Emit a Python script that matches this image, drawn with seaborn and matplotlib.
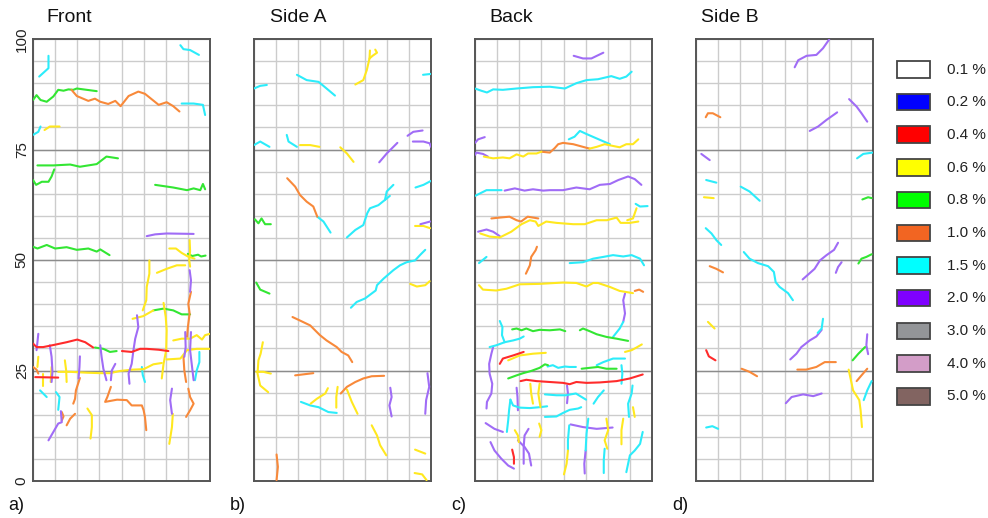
import matplotlib
matplotlib.use("Agg")
import matplotlib.pyplot as plt
import numpy as np
import pandas as pd
import seaborn as sns
from matplotlib.patches import Rectangle

sns.set_theme(style="white")
plt.rcParams["font.family"] = ["Liberation Sans", "DejaVu Sans"]

PANEL_TITLES = ["Front", "Side A", "Back", "Side B"]
PANEL_TAGS = ["a)", "b)", "c)", "d)"]
Y_TICKS = [0, 25, 50, 75, 100]
WIDTH_CLASSES = ["0.1", "0.2", "0.4", "0.6", "0.8", "1.0", "1.5", "2.0", "3.0", "4.0", "5.0"]
LEGEND_FILL = ["#ffffff", "#0000ff", "#ff0000", "#ffff00", "#00ff00", "#f26522",
               "#00ffff", "#7f00ff", "#939598", "#d39dc8", "#826461"]

# crack traces per face: (width class in %, [(x, height), ...])
FRONT_CRACKS = [
    ("1.5", [(1.4, 91.5), (3.5, 93.4), (3.5, 96.2)]),
    ("1.5", [(33.3, 98.6), (34.0, 97.7), (35.5, 97.5), (37.5, 96.4)]),
    ("0.8", [(0, 86.2), (0.8, 87.3), (1.7, 86.2), (3.1, 85.8), (4.6, 87.0), (5.7, 88.5), (6.9, 88.3),
             (8.0, 88.6), (9.1, 88.5), (9.9, 88.8), (11.4, 88.6), (14.4, 88.2)]),
    ("1.0", [(8.7, 88.5), (9.9, 87.1), (12.5, 86.0), (14.0, 86.5), (15.2, 85.8), (17.0, 85.3),
             (18.6, 86.0), (19.8, 84.8), (21.6, 87.1), (23.8, 88.1), (25.3, 87.6), (28.4, 85.1),
             (30.2, 85.7), (31.7, 84.8), (33.1, 83.6)]),
    ("1.5", [(33.6, 85.4), (36.3, 85.4), (38.4, 85.1), (38.9, 82.8)]),
    ("1.5", [(0, 78.3), (1.2, 79.0), (1.7, 80.2)]),
    ("0.6", [(2.6, 79.4), (3.8, 80.2), (6.0, 80.2)]),
    ("0.8", [(1.0, 71.4), (4.6, 71.4), (8.4, 71.6), (10.6, 71.1), (14.4, 71.7), (16.6, 73.4), (19.2, 73.0)]),
    ("0.8", [(0, 68.1), (0.7, 67.0), (2.0, 67.7), (3.5, 67.7), (4.2, 68.9), (4.8, 70.5)]),
    ("0.8", [(27.6, 67.0), (31.7, 66.4), (34.8, 65.8), (36.3, 66.2), (37.8, 65.8), (38.4, 67.2), (38.9, 66.0)]),
    ("2.0", [(25.7, 55.4), (27.6, 55.8), (30.2, 56.0), (36.3, 55.9)]),
    ("0.8", [(0, 53.0), (1.0, 52.6), (3.1, 53.4), (5.0, 52.6), (7.6, 52.9), (9.9, 52.3), (12.5, 52.6),
             (14.4, 51.9), (15.2, 52.4), (17.3, 51.1)]),
    ("0.6", [(30.8, 52.6), (32.3, 52.6), (33.6, 51.6), (35.0, 50.8), (36.5, 50.3)]),
    ("0.6", [(35.4, 54.5), (35.5, 52.0), (35.3, 50.0), (35.5, 48.5)]),
    ("0.8", [(35.0, 51.4), (36.0, 50.9), (37.3, 51.2), (38.0, 50.8), (39.0, 51.0)]),
    ("0.6", [(26.3, 49.9), (26.3, 46.9), (25.7, 43.9), (25.6, 40.9), (24.8, 38.6)]),
    ("0.6", [(28.0, 47.1), (30.2, 48.0), (32.5, 48.8), (34.4, 48.8)]),
    ("2.0", [(35.4, 47.7), (35.7, 45.4), (35.5, 42.8)]),
    ("1.0", [(35.7, 42.8), (35.1, 40.1), (35.4, 37.9), (35.0, 34.8), (34.8, 32.6)]),
    ("0.8", [(27.2, 38.6), (29.5, 39.0), (31.7, 38.6), (33.6, 37.7), (35.5, 37.7)]),
    ("0.6", [(22.5, 36.7), (24.9, 37.3), (27.2, 38.6)]),
    ("0.6", [(29.5, 40.3), (30.0, 37.1), (30.2, 34.1), (30.1, 29.6), (29.5, 26.5), (29.1, 23.2)]),
    ("2.0", [(23.5, 37.5), (23.8, 34.8), (23.1, 32.2), (22.7, 29.6), (22.3, 26.5), (21.6, 24.3), (21.8, 22.0)]),
    ("0.4", [(0, 31.1), (0.8, 30.3), (2.3, 30.3), (4.8, 30.8), (7.6, 31.4), (10.0, 32.0), (11.8, 31.4), (13.6, 30.2)]),
    ("0.8", [(14.0, 30.2), (15.9, 29.9), (17.4, 29.2), (18.9, 29.4)]),
    ("0.4", [(20.1, 29.4), (22.3, 29.2), (24.2, 29.9), (25.7, 29.9), (28.4, 29.7), (30.6, 29.4)]),
    ("0.6", [(31.7, 31.8), (33.6, 32.2), (35.5, 32.2), (37.0, 33.0), (38.2, 32.0), (38.9, 33.0), (40, 33.3)]),
    ("0.6", [(30.2, 27.5), (33.3, 27.7), (34.8, 29.6), (37.0, 29.9), (40, 29.9)]),
    ("2.0", [(34.4, 33.7), (34.5, 30.3), (34.2, 28.1)]),
    ("2.0", [(35.7, 33.7), (35.5, 29.6), (36.3, 22.8)]),
    ("1.5", [(37.6, 29.2), (37.6, 26.9), (37.0, 25.0), (36.6, 22.8)]),
    ("1.0", [(34.0, 28.1), (34.2, 25.0), (34.6, 22.4)]),
    ("1.0", [(35.1, 20.9), (35.5, 19.0), (36.3, 17.5), (35.5, 16.0), (34.6, 14.5)]),
    ("2.0", [(31.4, 20.9), (31.0, 18.3), (31.4, 15.2)]),
    ("0.6", [(31.6, 15.2), (31.4, 12.2), (30.8, 8.4)]),
    ("0.6", [(5.7, 24.7), (8.4, 24.7), (12.2, 24.5), (15.2, 24.4), (17.4, 24.4), (19.7, 24.9), (22.6, 25.2),
             (25.0, 25.3), (27.2, 26.4), (29.1, 26.7)]),
    ("1.5", [(24.6, 25.8), (24.8, 24.0), (25.3, 22.4)]),
    ("2.0", [(1.2, 33.3), (1.0, 31.4), (0.8, 29.6)]),
    ("0.6", [(1.2, 28.1), (1.0, 25.8)]),
    ("1.0", [(0, 25.8), (0.8, 25.2), (1.2, 24.3)]),
    ("0.4", [(0.5, 23.5), (5.7, 23.4)]),
    ("0.6", [(2.3, 24.3), (2.3, 21.6)]),
    ("2.0", [(3.8, 30.7), (4.2, 28.1), (4.4, 24.7), (4.2, 22.4)]),
    ("0.6", [(4.2, 25.8), (4.0, 22.4)]),
    ("0.6", [(7.2, 27.3), (7.5, 25.0), (7.6, 22.4)]),
    ("2.0", [(10.6, 28.2), (10.5, 25.8), (10.3, 23.2)]),
    ("1.0", [(10.6, 23.3), (9.7, 20.5), (9.5, 18.6), (9.1, 17.5)]),
    ("2.0", [(15.2, 30.7), (15.5, 28.1), (15.9, 25.4), (16.6, 22.8)]),
    ("2.0", [(18.6, 26.5), (17.8, 25.0), (17.6, 22.8)]),
    ("1.0", [(17.6, 21.3), (16.8, 19.0), (16.3, 17.9), (19.0, 18.4), (21.2, 18.3), (22.3, 17.1), (24.6, 17.1),
             (25.0, 16.0), (25.3, 14.5), (25.6, 11.5)]),
    ("1.5", [(1.6, 20.5), (3.1, 19.0)]),
    ("1.5", [(5.2, 20.1), (6.0, 19.0), (5.7, 16.1)]),
    ("1.0", [(6.5, 15.6), (6.9, 14.6), (6.5, 13.7)]),
    ("1.0", [(7.6, 12.6), (8.4, 14.1), (9.5, 15.2)]),
    ("2.0", [(3.5, 9.2), (4.6, 11.1), (5.7, 13.0), (6.5, 13.3), (6.3, 15.8)]),
    ("0.6", [(12.3, 16.4), (13.3, 14.9), (13.3, 12.2), (13.0, 9.6)]),
]

SIDE_A_CRACKS = [
    ("1.5", [(0, 88.8), (1.4, 89.4), (2.9, 89.6)]),
    ("1.5", [(9.7, 91.9), (11.9, 90.7), (14.6, 90.3), (16.4, 88.8), (18.3, 87.2)]),
    ("0.6", [(22.9, 89.7), (24.7, 90.7), (25.5, 93.0), (26.1, 95.6), (26.2, 97.4)]),
    ("0.6", [(26.1, 95.6), (26.8, 96.2), (27.8, 96.9), (27.4, 97.6)]),
    ("1.5", [(38.2, 91.9), (40.0, 92.1)]),
    ("1.5", [(0, 76.0), (1.4, 76.8), (3.5, 75.6)]),
    ("1.5", [(7.4, 78.3), (7.8, 76.8), (9.7, 75.6)]),
    ("0.6", [(10.4, 76.0), (12.7, 76.0), (14.8, 75.6)]),
    ("0.6", [(19.5, 75.5), (21.0, 74.1), (22.5, 72.2)]),
    ("2.0", [(28.3, 72.1), (30.0, 74.1), (32.4, 76.5)]),
    ("2.0", [(34.7, 78.1), (36.0, 79.0), (38.1, 79.3)]),
    ("2.0", [(35.9, 76.8), (38.3, 76.8), (39.7, 76.4), (40, 75.6)]),
    ("1.0", [(7.5, 68.5), (9.3, 66.6), (10.4, 64.7), (11.9, 63.2), (13.4, 62.1), (14.3, 59.8)]),
    ("1.5", [(14.3, 59.8), (15.7, 58.7), (17.3, 56.2)]),
    ("1.5", [(21.0, 55.1), (22.9, 56.8), (24.7, 57.9), (25.6, 60.6), (26.2, 61.7), (28.1, 62.4),
             (29.6, 63.6), (30.0, 65.5), (31.5, 67.0)]),
    ("1.5", [(29.6, 63.6), (30.7, 64.5)]),
    ("1.5", [(36.5, 66.4), (38.3, 67.0), (40, 67.9)]),
    ("0.8", [(0.2, 59.2), (1.0, 58.3), (1.7, 59.4), (2.5, 58.1), (3.8, 58.1)]),
    ("2.0", [(37.6, 58.1), (39.8, 58.7)]),
    ("0.6", [(36.4, 57.7), (38.3, 57.7), (39.8, 57.2)]),
    ("1.5", [(38.7, 52.3), (37.6, 51.2), (36.4, 49.9), (34.5, 49.5), (33.0, 48.8), (31.5, 47.7), (29.3, 45.8),
             (27.8, 44.3), (27.5, 43.1), (25.1, 41.3), (23.2, 40.5), (21.9, 39.2)]),
    ("0.6", [(35.3, 44.6), (36.8, 44.0), (38.7, 44.3), (39.7, 45.2)]),
    ("0.8", [(0.5, 44.9), (1.4, 43.3), (3.5, 42.4)]),
    ("1.0", [(8.7, 37.1), (10.4, 36.3), (12.7, 35.2), (14.9, 33.0), (16.4, 31.8), (18.7, 30.3), (19.8, 29.2),
             (21.3, 28.4), (22.2, 26.9)]),
    ("0.6", [(2.0, 31.4), (1.5, 28.8), (1.0, 27.3), (0.8, 24.3), (1.4, 21.6), (3.2, 20.1)]),
    ("0.6", [(0.5, 24.7), (2.1, 24.7), (3.8, 24.3)]),
    ("1.0", [(9.3, 23.9), (13.4, 24.4)]),
    ("1.0", [(19.6, 19.8), (21.0, 21.3), (22.9, 22.4), (24.7, 23.2), (26.6, 23.7), (29.4, 23.8)]),
    ("0.6", [(12.8, 17.5), (14.2, 18.6), (16.1, 19.8), (16.7, 21.0)]),
    ("1.5", [(10.6, 17.9), (12.7, 17.1), (14.6, 16.7), (16.8, 15.6), (18.7, 15.4)]),
    ("0.6", [(18.9, 21.3), (18.6, 19.0), (18.6, 16.6)]),
    ("0.6", [(21.0, 20.7), (22.1, 17.9), (23.4, 15.2)]),
    ("2.0", [(30.8, 21.1), (31.1, 19.0), (30.6, 17.1), (31.1, 14.6)]),
    ("2.0", [(39.2, 24.4), (39.6, 21.3), (38.9, 18.3), (38.7, 15.2)]),
    ("0.6", [(26.6, 12.6), (27.8, 10.3), (28.5, 8.1), (29.9, 5.8)]),
    ("0.6", [(36.4, 7.1), (38.7, 6.2)]),
    ("0.6", [(36.3, 1.8), (38.0, 1.5), (39.0, 0.2)]),
    ("1.0", [(5.1, 6.0), (5.4, 3.2), (5.1, 0.2)]),
]

BACK_CRACKS = [
    ("2.0", [(22.3, 96.2), (24.4, 95.6), (26.3, 95.6), (29.0, 96.9)]),
    ("1.5", [(0, 88.8), (1.4, 88.3), (2.7, 87.9), (4.1, 88.6), (6.3, 88.5), (9.4, 88.8), (13.1, 89.1),
             (16.9, 89.2), (20.3, 88.8), (22.9, 90.0), (25.2, 90.7), (27.8, 90.9), (30.8, 91.6),
             (32.7, 91.0), (34.2, 91.5), (35.4, 92.6)]),
    ("2.0", [(0, 76.5), (0.7, 77.3), (2.2, 77.8)]),
    ("2.0", [(0, 73.8), (0.3, 74.3), (1.8, 74.0), (2.9, 73.4)]),
    ("1.5", [(21.2, 77.3), (22.5, 77.9), (23.7, 79.2), (25.2, 78.5), (27.5, 77.5), (30.5, 76.2)]),
    ("1.0", [(15.0, 74.5), (16.9, 74.3), (18.0, 75.3), (18.8, 76.2), (19.9, 76.5), (22.2, 76.2),
             (24.4, 75.6), (25.9, 75.2)]),
    ("0.6", [(2.0, 73.4), (4.1, 73.0), (6.3, 73.2), (7.8, 73.0), (9.4, 73.9), (10.9, 73.4), (12.0, 74.1),
             (13.9, 74.1), (15.0, 74.5)]),
    ("0.6", [(25.9, 75.2), (27.5, 75.6), (29.3, 76.2), (31.2, 75.8), (32.7, 75.5), (34.2, 76.2),
             (35.7, 76.2), (36.9, 77.3)]),
    ("1.5", [(0, 64.5), (1.4, 65.2), (2.6, 65.8), (6.0, 65.8)]),
    ("2.0", [(6.7, 65.7), (9.0, 66.2), (11.2, 65.7), (13.1, 66.0), (15.4, 65.7), (16.9, 65.8), (19.9, 65.8),
             (22.9, 66.4), (25.9, 66.0), (28.2, 67.0), (30.5, 67.2), (32.4, 68.1), (34.6, 68.9),
             (36.1, 68.3), (37.6, 67.0)]),
    ("1.5", [(36.3, 62.7), (37.3, 62.1), (39.0, 62.2)]),
    ("1.0", [(3.7, 59.4), (5.6, 59.6), (7.8, 59.8), (9.4, 59.0), (10.4, 58.7), (11.9, 59.8), (13.1, 59.6),
             (14.3, 59.4)]),
    ("0.6", [(1.2, 56.0), (3.3, 55.3), (5.6, 55.1), (8.2, 56.4), (10.5, 58.1), (12.4, 59.0), (13.7, 58.7),
             (14.3, 57.7), (16.1, 58.7), (18.4, 58.4), (22.2, 58.1), (24.8, 58.1), (27.5, 59.0),
             (29.8, 59.0), (32.0, 59.6), (32.9, 58.4), (35.0, 58.4), (36.9, 58.7)]),
    ("0.6", [(34.4, 59.0), (35.7, 59.4), (36.5, 61.7)]),
    ("2.0", [(0.7, 56.4), (2.6, 56.9), (4.1, 56.4), (5.6, 55.4)]),
    ("1.5", [(0.9, 49.3), (2.6, 50.7)]),
    ("1.0", [(11.5, 46.9), (12.4, 48.8), (12.7, 50.7), (13.7, 52.2), (14.0, 53.0)]),
    ("1.5", [(21.4, 49.3), (24.4, 49.5), (26.7, 50.3), (29.0, 50.7), (31.2, 51.1), (33.5, 50.8),
             (35.4, 51.1), (37.3, 50.3), (38.2, 48.8)]),
    ("0.6", [(0.9, 44.3), (1.8, 43.3), (4.8, 43.1), (7.1, 43.5), (10.1, 44.5), (14.6, 44.6), (19.9, 44.9),
             (22.9, 44.8), (25.2, 44.0), (26.7, 44.8), (27.8, 44.8), (30.5, 43.9), (32.7, 43.0), (35.7, 42.5)]),
    ("1.0", [(36.1, 43.0), (37.1, 43.3), (38.0, 42.8)]),
    ("2.0", [(33.9, 42.4), (33.5, 40.9), (33.9, 37.9), (33.5, 36.0)]),
    ("1.5", [(33.5, 36.0), (32.7, 34.5), (31.2, 32.6)]),
    ("0.8", [(23.7, 34.1), (24.4, 34.5), (25.9, 33.9), (27.5, 33.2), (29.7, 32.6), (32.0, 32.2), (34.6, 31.7)]),
    ("0.8", [(8.4, 34.3), (9.4, 34.5), (10.5, 34.1), (11.6, 34.5), (13.1, 33.9), (14.6, 34.2), (16.9, 34.1),
             (19.2, 34.3), (20.4, 33.9)]),
    ("1.5", [(5.6, 36.2), (6.2, 34.8), (6.1, 33.0), (6.7, 31.4), (8.6, 31.8), (10.1, 32.2), (11.0, 32.7)]),
    ("1.5", [(3.3, 30.3), (4.8, 30.7), (6.7, 31.4)]),
    ("2.0", [(4.1, 30.3), (3.7, 28.8), (3.2, 26.5), (3.3, 24.3), (3.9, 22.0), (3.7, 19.8), (2.7, 17.9), (2.6, 16.4)]),
    ("0.4", [(5.6, 26.5), (6.3, 27.7), (8.6, 28.4), (11.0, 29.2)]),
    ("0.6", [(7.5, 27.3), (10.1, 28.4), (13.1, 28.8), (16.0, 29.0)]),
    ("0.6", [(33.9, 29.2), (35.4, 29.6), (36.5, 30.2), (37.7, 30.9)]),
    ("0.8", [(7.5, 23.2), (9.4, 23.9), (10.9, 24.4), (12.7, 24.9), (14.6, 25.6), (15.8, 26.4), (16.5, 26.2)]),
    ("1.5", [(16.4, 25.9), (17.6, 26.2), (18.8, 25.6), (20.3, 25.9), (21.4, 25.8), (22.8, 25.8)]),
    ("0.8", [(24.1, 25.4), (25.9, 25.6), (27.8, 25.8), (29.7, 25.4), (32.0, 25.4)]),
    ("1.5", [(27.5, 26.2), (29.0, 26.9), (31.2, 27.7), (33.9, 27.7)]),
    ("1.5", [(33.1, 26.2), (33.3, 24.3), (33.1, 22.0)]),
    ("0.4", [(10.3, 22.6), (11.6, 22.9), (13.9, 22.6), (16.9, 22.4), (19.9, 22.2), (21.4, 21.9), (22.9, 22.4),
             (25.2, 22.2), (28.2, 22.3), (32.0, 22.6), (35.0, 23.2), (37.9, 24.1)]),
    ("0.6", [(12.5, 22.0), (12.7, 19.8), (13.1, 17.5)]),
    ("0.6", [(14.6, 22.0), (14.3, 19.8), (14.8, 16.7)]),
    ("2.0", [(9.4, 21.1), (9.6, 19.0), (9.7, 16.0)]),
    ("1.5", [(8.0, 18.4), (8.6, 17.1), (10.1, 16.6), (12.4, 16.5), (14.6, 16.7), (16.3, 16.9)]),
    ("1.5", [(8.0, 18.4), (7.7, 16.0), (7.5, 13.7), (7.2, 11.1)]),
    ("1.5", [(15.8, 19.6), (18.4, 19.4), (20.5, 19.4), (22.8, 19.8), (25.1, 18.4)]),
    ("2.0", [(20.8, 21.6), (21.0, 19.8), (20.8, 17.6)]),
    ("1.5", [(15.8, 14.5), (18.4, 14.6), (19.9, 15.4), (21.4, 16.1), (23.3, 16.4), (24.0, 16.7)]),
    ("1.5", [(26.8, 17.5), (27.8, 19.0), (29.1, 20.5)]),
    ("1.5", [(35.6, 21.6), (35.4, 19.8), (34.6, 17.5), (34.8, 14.5)]),
    ("0.6", [(35.7, 16.7), (36.1, 14.5)]),
    ("2.0", [(2.4, 13.1), (4.4, 11.8), (6.3, 11.1)]),
    ("2.0", [(3.5, 8.8), (4.4, 6.9), (5.9, 5.1), (7.5, 3.5), (8.8, 2.8)]),
    ("0.4", [(8.4, 7.1), (8.8, 5.4), (8.8, 3.9)]),
    ("0.6", [(9.0, 11.5), (9.7, 10.3), (9.9, 8.8)]),
    ("2.0", [(12.1, 11.8), (11.2, 10.3), (11.0, 7.7), (11.0, 3.9)]),
    ("2.0", [(9.7, 9.2), (11.2, 7.7), (12.2, 6.2), (12.7, 3.5)]),
    ("0.6", [(14.5, 13.0), (15.0, 11.5), (14.6, 10.0)]),
    ("2.0", [(21.6, 12.8), (24.4, 12.2), (27.5, 11.8), (31.1, 12.1)]),
    ("1.5", [(21.3, 12.6), (21.0, 9.2), (21.0, 6.9)]),
    ("0.6", [(21.0, 6.9), (20.7, 3.9), (20.1, 1.5)]),
    ("1.5", [(25.6, 14.1), (25.2, 10.7), (25.0, 6.9)]),
    ("2.0", [(25.0, 6.9), (24.7, 3.9), (24.8, 1.7)]),
    ("0.6", [(29.7, 14.1), (30.1, 11.5), (29.3, 9.2), (29.9, 7.3)]),
    ("1.5", [(29.3, 7.3), (29.1, 4.7), (29.1, 1.8)]),
    ("0.6", [(33.5, 14.1), (33.1, 11.5), (33.1, 8.3)]),
    ("1.5", [(37.9, 11.1), (37.3, 8.4), (36.1, 6.9), (35.0, 5.8), (34.6, 3.9), (34.2, 2.0)]),
]

SIDE_B_CRACKS = [
    ("2.0", [(22.3, 93.6), (23.1, 95.2), (25.0, 96.2), (27.2, 96.4), (28.7, 97.9), (30.1, 99.9)]),
    ("1.0", [(2.2, 82.3), (2.7, 83.2), (3.8, 83.2), (5.5, 82.3)]),
    ("2.0", [(25.7, 79.2), (27.6, 80.2), (29.5, 81.7), (31.9, 83.4)]),
    ("2.0", [(34.6, 86.4), (36.3, 84.7), (37.4, 83.2), (38.7, 81.3)]),
    ("2.0", [(1.2, 74.0), (3.1, 72.6)]),
    ("1.5", [(36.4, 73.0), (37.8, 74.0), (39.9, 74.3)]),
    ("1.5", [(2.3, 68.1), (4.6, 67.5)]),
    ("1.5", [(10.1, 66.6), (12.1, 65.5), (14.4, 63.4)]),
    ("0.6", [(1.8, 64.2), (4.0, 64.0)]),
    ("0.8", [(37.6, 63.7), (38.9, 64.2), (39.7, 64.0)]),
    ("1.5", [(2.2, 57.2), (3.5, 56.0), (4.6, 54.5), (5.7, 53.4)]),
    ("1.5", [(10.8, 51.8), (12.1, 50.3), (14.0, 49.3), (16.3, 48.6), (17.6, 47.3), (18.0, 45.0),
             (18.9, 43.9), (20.8, 42.5), (21.9, 40.9)]),
    ("1.0", [(3.1, 48.6), (4.6, 48.0), (6.1, 47.2)]),
    ("2.0", [(32.1, 53.9), (31.2, 52.3), (29.5, 51.1), (28.0, 49.9), (26.8, 48.0), (24.1, 45.6)]),
    ("2.0", [(32.9, 49.5), (32.1, 48.4), (31.6, 47.1)]),
    ("0.8", [(36.7, 49.2), (37.4, 50.3), (38.5, 50.7), (39.7, 51.3)]),
    ("0.6", [(2.7, 36.0), (4.2, 34.5)]),
    ("1.5", [(28.7, 36.7), (28.4, 34.5), (27.5, 33.5)]),
    ("2.0", [(21.3, 27.5), (22.7, 28.8), (23.8, 30.3), (25.7, 31.8), (27.2, 32.7), (28.4, 34.2)]),
    ("0.4", [(2.3, 29.6), (2.9, 28.2), (4.4, 27.3)]),
    ("2.0", [(38.7, 33.2), (38.5, 30.7), (38.9, 28.7)]),
    ("0.8", [(35.4, 27.3), (36.7, 28.8), (38.2, 30.3)]),
    ("1.0", [(22.9, 25.2), (24.9, 25.2), (27.2, 25.8), (29.1, 26.9), (31.6, 26.9)]),
    ("1.0", [(10.3, 25.4), (12.1, 24.7), (13.8, 23.7)]),
    ("0.6", [(34.5, 25.2), (35.1, 22.4), (35.5, 20.5), (36.9, 18.3), (37.2, 16.0), (37.5, 12.2)]),
    ("1.0", [(36.3, 22.6), (37.4, 23.9), (38.7, 25.4)]),
    ("1.5", [(37.9, 18.3), (38.7, 20.5), (39.7, 22.6)]),
    ("2.0", [(20.3, 17.6), (21.6, 19.0), (24.2, 19.6), (26.5, 19.2), (28.4, 19.8)]),
    ("1.5", [(2.3, 12.1), (3.7, 12.4), (5.0, 11.8)]),
]

PANEL_CRACKS = [FRONT_CRACKS, SIDE_A_CRACKS, BACK_CRACKS, SIDE_B_CRACKS]

# stroke colours of the drawn traces (slightly lighter than the legend swatches)
TRACE_COLOR = {"0.4": "#ff2b2b", "0.6": "#ffe81f", "0.8": "#33e633", "1.0": "#f8893a",
               "1.5": "#2cecfa", "2.0": "#a06cf6"}

W, H = 988, 518
fig = plt.figure(figsize=(W / 100, H / 100), dpi=100)

panel_left = [33, 254, 475, 696]
ax_w, ax_h, ax_bottom = 177, 442, 37

for i, cracks in enumerate(PANEL_CRACKS):
    ax = fig.add_axes([panel_left[i] / W, ax_bottom / H, ax_w / W, ax_h / H])
    rows = []
    for cid, (cls, pts) in enumerate(cracks):
        for k, (x, y) in enumerate(pts):
            rows.append({"crack": cid, "width": cls, "x": x, "y": y, "k": k})
    df = pd.DataFrame(rows)
    sns.lineplot(data=df, x="x", y="y", units="crack", estimator=None, hue="width",
                 palette=TRACE_COLOR, sort=False, legend=False, lw=1.5, ax=ax, zorder=3)
    ax.set_xlim(0, 40)
    ax.set_ylim(0, 100)
    ax.set_xticks(np.arange(0, 41, 5))
    ax.set_yticks(Y_TICKS)
    ax.set_yticks(np.arange(0, 101, 5), minor=True)
    ax.grid(True, which="both", color="#cccccc", lw=1.0, zorder=0)
    for yv in (25, 50, 75):
        ax.axhline(yv, color="#8c8c8c", lw=1.0, zorder=1)
    ax.set_xlabel("")
    ax.set_ylabel("")
    ax.set_xticklabels([])
    ax.tick_params(axis="both", which="both", length=0)
    if i == 0:
        ax.set_yticklabels([str(t) for t in Y_TICKS], rotation=90, va="center", fontsize=11,
                           color="#222222")
        ax.tick_params(axis="y", pad=3)
    else:
        ax.set_yticklabels([])
    for sp in ax.spines.values():
        sp.set_color("#555555")
        sp.set_linewidth(1.4)
        sp.set_visible(True)

# overlay in pixel coordinates for titles, panel tags and the width key
ov = fig.add_axes([0, 0, 1, 1], zorder=-1)
ov.set_xlim(0, W)
ov.set_ylim(H, 0)
ov.axis("off")

title_x = [46, 270, 489, 701]
tag_x = [8, 230, 451, 672]
for i in range(4):
    ov.text(title_x[i], 17, PANEL_TITLES[i], fontsize=14, ha="left", va="center", color="#111111")
    ov.text(tag_x[i], 506, PANEL_TAGS[i], fontsize=13, ha="left", va="center", color="#111111")

for j, (cls, fill) in enumerate(zip(WIDTH_CLASSES, LEGEND_FILL)):
    top = 61 + 32.7 * j
    ov.add_patch(Rectangle((897, top), 33, 16.5, facecolor=fill, edgecolor="#444444", lw=1.3))
    ov.text(947, top + 8.5, f"{cls} %", fontsize=11, ha="left", va="center", color="#222222")

fig.savefig("out.png", dpi=100)
